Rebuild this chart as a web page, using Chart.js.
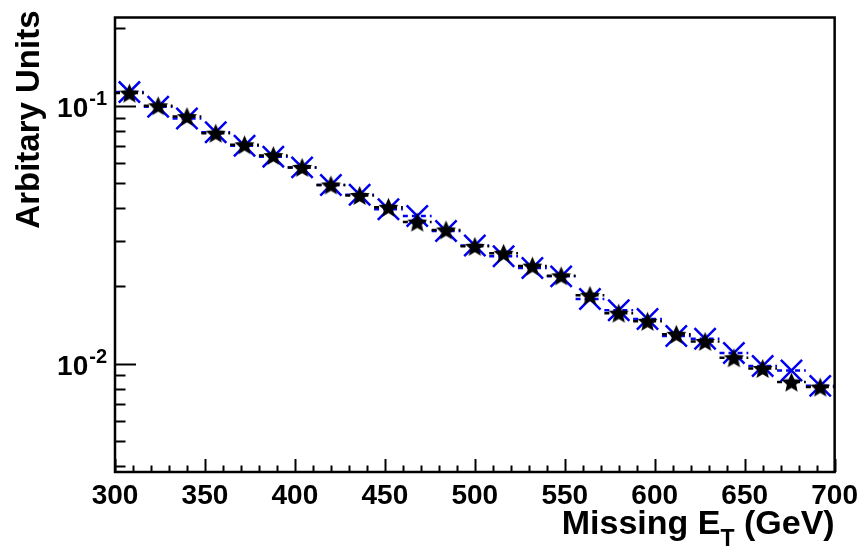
<!DOCTYPE html>
<html>
<head>
<meta charset="utf-8">
<style>
  html, body { margin: 0; padding: 0; background: #fff; }
  #wrap { width: 865px; height: 549px; }
</style>
<script src="https://cdn.jsdelivr.net/npm/chart.js@4/dist/chart.umd.min.js"></script>
</head>
<body>
<div id="wrap"><canvas id="met-chart"></canvas></div>
<script>
// bins of Missing E_T, 16 GeV wide
const binCenters = [308, 324, 340, 356, 372, 388, 404, 420, 436, 452, 468, 484, 500,
  516, 532, 548, 564, 580, 596, 612, 628, 644, 660, 676, 692];
const binHalfWidth = 8;

// black stars
const starValues = [0.112, 0.100, 0.0908, 0.0783, 0.0706, 0.0641, 0.0577, 0.0493, 0.0449,
  0.0404, 0.0354, 0.0330, 0.0285, 0.0268, 0.0239, 0.0219, 0.0184, 0.0157, 0.0146,
  0.0130, 0.0122, 0.01054, 0.00958, 0.00848, 0.00811];

// blue crosses
const crossValues = [0.113, 0.0991, 0.0893, 0.0790, 0.0700, 0.0635, 0.0577, 0.0493, 0.0452,
  0.0397, 0.0374, 0.0327, 0.0287, 0.0261, 0.0235, 0.0218, 0.0178, 0.0161, 0.0149,
  0.0128, 0.0125, 0.0110, 0.0098, 0.0094, 0.0082];

const xTickLabels = [300, 350, 400, 450, 500, 550, 600, 650, 700];
const xMinorStep = 10;
const yTickValues = [0.004, 0.005, 0.006, 0.007, 0.008, 0.009, 0.01, 0.02, 0.03, 0.04,
  0.05, 0.06, 0.07, 0.08, 0.09, 0.1, 0.2];
const yLabelExponents = [-1, -2];

const FONT = "'Liberation Sans', Arial, Helvetica, sans-serif";

function makeStar(outer, color) {
  const size = Math.ceil(outer * 2 + 2);
  const c = document.createElement("canvas");
  c.width = size;
  c.height = size;
  const ctx = c.getContext("2d");
  const inner = outer * 0.46;
  ctx.beginPath();
  for (let i = 0; i < 10; i++) {
    const r = i % 2 === 0 ? outer : inner;
    const a = -Math.PI / 2 + i * Math.PI / 5;
    const px = size / 2 + r * Math.cos(a);
    const py = size / 2 + 1 + r * Math.sin(a);
    if (i === 0) ctx.moveTo(px, py); else ctx.lineTo(px, py);
  }
  ctx.closePath();
  ctx.fillStyle = color;
  ctx.fill();
  return c;
}

function binSegments(values) {
  return binCenters.flatMap((c, i) => [
    { x: c - binHalfWidth, y: values[i] },
    { x: c + binHalfWidth, y: values[i] },
    { x: c, y: null },
  ]);
}

const rootFrame = {
  id: "rootFrame",
  afterDraw(chart) {
    const { ctx, chartArea: a, scales } = chart;
    const x = scales.x;
    const y = scales.y;
    ctx.save();
    ctx.strokeStyle = "#000";
    ctx.lineWidth = 2.5;
    ctx.strokeRect(a.left, a.top, a.right - a.left, a.bottom - a.top);

    // x ticks, inside the frame
    ctx.lineWidth = 2;
    for (let v = x.min; v <= x.max + 0.001; v += xMinorStep) {
      const px = Math.round(x.getPixelForValue(v)) + 0.5;
      const len = xTickLabels.includes(v) ? 13 : 6.5;
      ctx.beginPath();
      ctx.moveTo(px, a.bottom);
      ctx.lineTo(px, a.bottom - len);
      ctx.stroke();
    }
    // y ticks
    yTickValues.forEach((v) => {
      const py = Math.round(y.getPixelForValue(v)) + 0.5;
      const major = Math.abs(Math.log10(v) - Math.round(Math.log10(v))) < 1e-6;
      ctx.beginPath();
      ctx.moveTo(a.left, py);
      ctx.lineTo(a.left + (major ? 21 : 10.5), py);
      ctx.stroke();
    });

    // y labels 10^n
    ctx.fillStyle = "#000";
    ctx.textBaseline = "alphabetic";
    yLabelExponents.forEach((e) => {
      const py = y.getPixelForValue(Math.pow(10, e));
      const sup = "-" + Math.abs(e);
      ctx.font = "bold 20px " + FONT;
      const supW = ctx.measureText(sup).width;
      const right = a.left - 8;
      ctx.textAlign = "left";
      ctx.fillText(sup, right - supW, py - 1);
      ctx.font = "bold 28px " + FONT;
      ctx.textAlign = "right";
      ctx.fillText("10", right - supW - 1, py + 11);
    });

    // x title: Missing E_T (GeV)
    ctx.textAlign = "left";
    ctx.font = "bold 34px " + FONT;
    const partA = "Missing E";
    const partC = " (GeV)";
    const wA = ctx.measureText(partA).width;
    const wC = ctx.measureText(partC).width;
    ctx.font = "bold 23px " + FONT;
    const wB = ctx.measureText("T").width;
    const start = a.right - wA - wB - wC;
    ctx.font = "bold 34px " + FONT;
    ctx.fillText(partA, start, 534);
    ctx.fillText(partC, start + wA + wB, 534);
    ctx.font = "bold 23px " + FONT;
    ctx.fillText("T", start + wA, 546);

    // y title
    ctx.save();
    ctx.translate(39, a.top - 7);
    ctx.rotate(-Math.PI / 2);
    ctx.font = "bold 33px " + FONT;
    ctx.textAlign = "right";
    ctx.fillText("Arbitary Units", 0, 0);
    ctx.restore();

    ctx.restore();
  },
};

const chartConfig = {
  type: "scatter",
  data: {
    datasets: [
      {
        label: "stars",
        data: binCenters.map((c, i) => ({ x: c, y: starValues[i] })),
        pointStyle: makeStar(10.5, "#000"),
        order: 0,
      },
      {
        label: "crosses",
        data: binCenters.map((c, i) => ({ x: c, y: crossValues[i] })),
        pointStyle: "crossRot",
        pointRadius: 15,
        pointBorderColor: "#0000ee",
        pointBorderWidth: 2.5,
        order: 1,
      },
      {
        label: "stars bins",
        data: binSegments(starValues),
        showLine: true,
        borderColor: "#000",
        borderWidth: 2.5,
        borderDash: [5, 4],
        pointRadius: 0,
        spanGaps: false,
        order: 2,
      },
      {
        label: "crosses bins",
        data: binSegments(crossValues),
        showLine: true,
        borderColor: "#0000ee",
        borderWidth: 2.5,
        borderDash: [5, 4],
        pointRadius: 0,
        spanGaps: false,
        order: 3,
      },
    ],
  },
  options: {
    responsive: true,
    maintainAspectRatio: false,
    animation: false,
    layout: { padding: { top: 11, right: 27, left: 0, bottom: 0 } },
    plugins: { legend: { display: false }, tooltip: { enabled: false } },
    scales: {
      x: {
        type: "linear",
        min: 300,
        max: 700,
        grid: { display: false, drawTicks: false },
        border: { display: false },
        afterBuildTicks: (scale) => {
          scale.ticks = xTickLabels.map((v) => ({ value: v }));
        },
        afterFit: (scale) => {
          scale.height = 77;
        },
        ticks: {
          color: "#000",
          padding: 7,
          maxRotation: 0,
          font: { family: FONT, size: 28, weight: "bold" },
          callback: (v) => String(v),
        },
      },
      y: {
        type: "logarithmic",
        min: 0.0038,
        max: 0.22,
        grid: { display: false, drawTicks: false },
        border: { display: false },
        afterBuildTicks: (scale) => {
          scale.ticks = yTickValues.map((v) => ({ value: v }));
        },
        afterFit: (scale) => {
          scale.width = 115;
        },
        ticks: { display: false },
      },
    },
  },
  plugins: [rootFrame],
};

new Chart(document.getElementById("met-chart"), chartConfig);
</script>
</body>
</html>
